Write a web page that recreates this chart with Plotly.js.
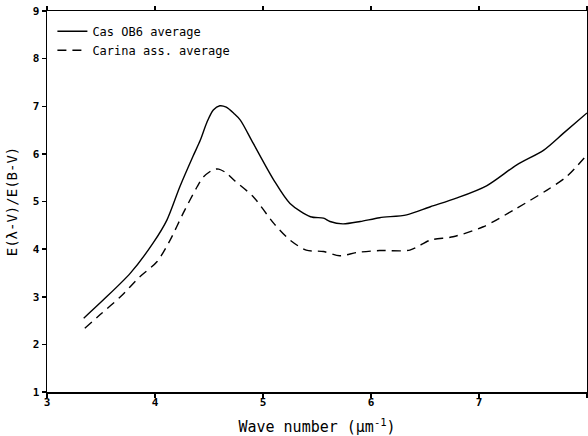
<!DOCTYPE html>
<html>
<head>
<meta charset="utf-8">
<script src="https://cdn.plot.ly/plotly-3.0.1.min.js"></script>
<style>html,body{margin:0;padding:0;background:#fff;}#chart{width:588px;height:436px;}</style>
</head>
<body>
<div id="chart"></div>
<script>
const casX = [3.34, 3.52, 3.77, 3.98, 4.11, 4.23, 4.35, 4.42, 4.48, 4.54, 4.60, 4.66, 4.73, 4.79, 4.91, 5.10, 5.25, 5.44, 5.56, 5.62, 5.74, 5.90, 6.08, 6.33, 6.55, 6.79, 7.07, 7.35, 7.60, 7.78, 8.00];
const casY = [2.55, 2.93, 3.49, 4.12, 4.61, 5.31, 5.94, 6.29, 6.66, 6.92, 7.01, 6.98, 6.85, 6.71, 6.22, 5.45, 4.96, 4.68, 4.65, 4.58, 4.53, 4.58, 4.66, 4.72, 4.89, 5.07, 5.33, 5.77, 6.08, 6.43, 6.86];
const carX = [3.35, 3.49, 3.68, 3.86, 4.02, 4.14, 4.26, 4.39, 4.45, 4.54, 4.59, 4.66, 4.73, 4.91, 5.10, 5.25, 5.40, 5.56, 5.71, 5.87, 6.08, 6.36, 6.55, 6.76, 7.04, 7.35, 7.63, 7.81, 8.00];
const carY = [2.34, 2.62, 3.00, 3.42, 3.74, 4.19, 4.75, 5.31, 5.52, 5.67, 5.68, 5.60, 5.45, 5.10, 4.54, 4.19, 3.98, 3.95, 3.86, 3.93, 3.97, 3.98, 4.19, 4.26, 4.47, 4.86, 5.24, 5.52, 5.98];
const seriesNames = ["Cas OB6 average", "Carina ass. average"];
const xTicks = [3, 4, 5, 6, 7, 8];
const yTicks = [1, 2, 3, 4, 5, 6, 7, 8, 9];

const fontFam = "DejaVu Sans Mono, monospace";
const traces = [
  {x: casX, y: casY, name: seriesNames[0], mode: "lines", line: {color: "#000", width: 1.4, shape: "spline", smoothing: 0.8}},
  {x: carX, y: carY, name: seriesNames[1], mode: "lines", line: {color: "#000", width: 1.4, dash: "9px,6px", shape: "spline", smoothing: 0.8}}
];
const axisCommon = {
  showgrid: false, zeroline: false, showline: true, linecolor: "#000", linewidth: 1.5,
  mirror: "ticks", ticks: "outside", ticklen: 4, tickwidth: 1.5, tickcolor: "#000",
  tickfont: {family: fontFam, size: 11, color: "#000", weight: "bold"}
};
const layout = {
  width: 588, height: 436,
  margin: {l: 47, r: 1, t: 11, b: 44},
  paper_bgcolor: "#fff", plot_bgcolor: "#fff",
  showlegend: true,
  legend: {x: 0.01, y: 0.985, xanchor: "left", yanchor: "top", bgcolor: "rgba(0,0,0,0)",
           font: {family: fontFam, size: 12, color: "#000"}, tracegroupgap: 0, itemwidth: 30},
  xaxis: Object.assign({}, axisCommon, {range: [3, 8], tickvals: xTicks, ticktext: xTicks.map(String), ticklabelstandoff: -5,
    title: {text: "Wave number (μm<sup>-1</sup>)", font: {family: fontFam, size: 15, color: "#000"}, standoff: 14}}),
  yaxis: Object.assign({}, axisCommon, {range: [1, 9], tickvals: yTicks, ticktext: yTicks.map(String),
    title: {text: "E(λ-V)/E(B-V)", font: {family: fontFam, size: 14, color: "#000"}, standoff: 12}})
};
Plotly.newPlot("chart", traces, layout, {staticPlot: true, displayModeBar: false});
</script>
</body>
</html>
